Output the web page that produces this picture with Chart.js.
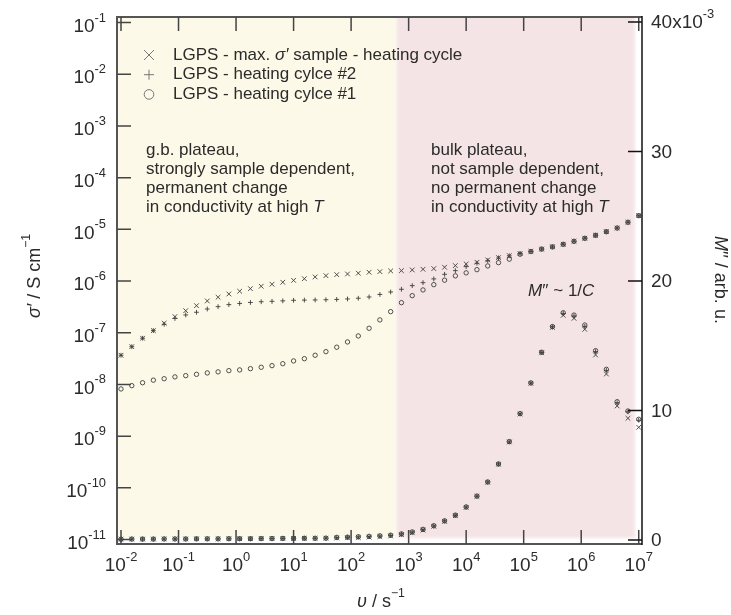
<!DOCTYPE html>
<html>
<head>
<meta charset="utf-8">
<script src="https://cdn.jsdelivr.net/npm/chart.js@4.4.1/dist/chart.umd.min.js"></script>
<style>
    html, body { margin: 0; padding: 0; background: #fff; }
    #wrap { width: 731px; height: 615px; }
</style>
</head>
<body>
<div id="wrap"><canvas id="chart" width="731" height="615"></canvas></div>
<script>
// Frequency points (Hz), 16 steps per 3 decades from 10^-2 to 10^7
const freq = [
    0.01, 0.01540, 0.02371, 0.03652, 0.05623, 0.08660, 0.1334, 0.2054, 0.3162, 0.4870,
    0.7499, 1.155, 1.778, 2.738, 4.217, 6.494, 10, 15.40, 23.71, 36.52,
    56.23, 86.60, 133.4, 205.4, 316.2, 487.0, 749.9, 1155, 1778, 2738,
    4217, 6494, 10000, 15400, 23710, 36520, 56230, 86600, 133400, 205400,
    316200, 487000, 749900, 1155000, 1778000, 2738000, 4217000, 6494000, 10000000
];

// Real part of conductivity, S/cm
const sigmaMax = [
    3.67e-8, 5.38e-8, 7.83e-8, 1.10e-7, 1.53e-7, 2.05e-7, 2.67e-7, 3.34e-7, 4.12e-7, 4.86e-7,
    5.62e-7, 6.35e-7, 7.13e-7, 7.93e-7, 8.67e-7, 9.48e-7, 1.03e-6, 1.11e-6, 1.20e-6, 1.27e-6,
    1.33e-6, 1.37e-6, 1.42e-6, 1.48e-6, 1.52e-6, 1.57e-6, 1.59e-6, 1.64e-6, 1.69e-6, 1.74e-6,
    1.85e-6, 1.99e-6, 2.14e-6, 2.31e-6, 2.56e-6, 2.84e-6, 3.10e-6, 3.40e-6, 3.75e-6, 4.15e-6,
    4.60e-6, 5.15e-6, 5.89e-6, 6.73e-6, 7.69e-6, 9.04e-6, 1.06e-5, 1.37e-5, 1.84e-5
];
const sigmaCycle2 = [
    3.67e-8, 5.38e-8, 7.83e-8, 1.10e-7, 1.46e-7, 1.89e-7, 2.21e-7, 2.49e-7, 2.88e-7, 3.20e-7,
    3.50e-7, 3.69e-7, 3.85e-7, 3.98e-7, 4.05e-7, 4.14e-7, 4.24e-7, 4.28e-7, 4.31e-7, 4.35e-7,
    4.41e-7, 4.51e-7, 4.65e-7, 4.92e-7, 5.51e-7, 6.15e-7, 6.93e-7, 8.15e-7, 9.31e-7, 1.10e-6,
    1.35e-6, 1.59e-6, 1.90e-6, 2.21e-6, 2.48e-6, 2.80e-6, 3.08e-6, 3.40e-6, 3.73e-6, 4.15e-6,
    4.58e-6, 5.13e-6, 5.87e-6, 6.70e-6, 7.66e-6, 9.00e-6, 1.06e-5, 1.37e-5, 1.84e-5
];
const sigmaCycle1 = [
    8.18e-9, 9.48e-9, 1.08e-8, 1.21e-8, 1.29e-8, 1.40e-8, 1.48e-8, 1.57e-8, 1.67e-8, 1.75e-8,
    1.85e-8, 1.91e-8, 2.02e-8, 2.15e-8, 2.31e-8, 2.52e-8, 2.85e-8, 3.15e-8, 3.67e-8, 4.31e-8,
    5.25e-8, 6.64e-8, 8.67e-8, 1.22e-7, 1.77e-7, 2.56e-7, 3.82e-7, 5.22e-7, 6.73e-7, 8.51e-7,
    1.04e-6, 1.26e-6, 1.44e-6, 1.66e-6, 1.96e-6, 2.27e-6, 2.65e-6, 3.30e-6, 3.72e-6, 4.15e-6,
    4.58e-6, 5.13e-6, 5.87e-6, 6.70e-6, 7.66e-6, 9.00e-6, 1.06e-5, 1.37e-5, 1.84e-5
];

// Imaginary part of the electric modulus, in units of 10^-3
const mppMax = [
    0.06, 0.07, 0.07, 0.07, 0.08, 0.08, 0.08, 0.09, 0.09, 0.09,
    0.10, 0.10, 0.10, 0.11, 0.11, 0.12, 0.12, 0.13, 0.13, 0.14,
    0.15, 0.17, 0.19, 0.22, 0.26, 0.31, 0.41, 0.56, 0.77, 1.06,
    1.44, 1.88, 2.52, 3.37, 4.46, 5.85, 7.57, 9.73, 12.10, 14.46,
    16.42, 17.35, 17.12, 16.27, 14.29, 12.82, 10.35, 9.40, 8.70
];
const mppCycle2 = [
    0.06, 0.07, 0.07, 0.07, 0.08, 0.08, 0.08, 0.09, 0.09, 0.09,
    0.10, 0.10, 0.10, 0.11, 0.11, 0.12, 0.12, 0.13, 0.13, 0.14,
    0.18, 0.20, 0.23, 0.26, 0.30, 0.35, 0.45, 0.60, 0.80, 1.08,
    1.46, 1.90, 2.54, 3.38, 4.47, 5.86, 7.58, 9.75, 12.12, 14.48,
    16.45, 17.50, 17.30, 16.50, 14.55, 13.10, 10.60, 9.90, 9.25
];
const mppCycle1 = [
    0.06, 0.07, 0.07, 0.07, 0.08, 0.08, 0.08, 0.09, 0.09, 0.09,
    0.10, 0.10, 0.10, 0.11, 0.11, 0.12, 0.12, 0.13, 0.13, 0.14,
    0.20, 0.22, 0.25, 0.28, 0.32, 0.37, 0.47, 0.62, 0.82, 1.10,
    1.48, 1.92, 2.55, 3.39, 4.48, 5.87, 7.60, 9.76, 12.13, 14.50,
    16.48, 17.55, 17.37, 16.60, 14.62, 13.18, 10.68, 9.96, 9.32
];

// Axis ticks
const xDecades = [-2, -1, 0, 1, 2, 3, 4, 5, 6, 7];
const yDecades = [-11, -10, -9, -8, -7, -6, -5, -4, -3, -2, -1];
const rightTicks = [0, 10, 20, 30, 40];

// Shaded frequency ranges (Hz): grain boundary and bulk regimes
const gbEdge = 620;
const bulkEdge = 8.6e6;

const FONT = '"Liberation Sans", Arial, Helvetica, sans-serif';
const INK = '#2b2b2b';

function pts(ys) {
    return freq.map((f, i) => ({ x: f, y: ys[i] }));
}

// Draws a run of text pieces; piece = [text, flags] with flags 'i' (italic) / 's' (superscript)
function richWidth(ctx, parts, size) {
    let w = 0;
    parts.forEach(p => {
        const fl = p[1] || '';
        const s = fl.includes('s') ? size * 0.68 : size;
        ctx.font = (fl.includes('i') ? 'italic ' : '') + s + 'px ' + FONT;
        w += ctx.measureText(p[0]).width;
    });
    return w;
}

function drawRich(ctx, parts, x, y, size, align) {
    const w = richWidth(ctx, parts, size);
    let cx = x;
    if (align === 'center') cx = x - w / 2;
    if (align === 'right') cx = x - w;
    ctx.textBaseline = 'middle';
    ctx.textAlign = 'left';
    parts.forEach(p => {
        const fl = p[1] || '';
        const sup = fl.includes('s');
        const s = sup ? size * 0.68 : size;
        ctx.font = (fl.includes('i') ? 'italic ' : '') + s + 'px ' + FONT;
        ctx.fillText(p[0], cx, sup ? y - size * 0.45 : y);
        cx += ctx.measureText(p[0]).width;
    });
}

const shading = {
    id: 'shading',
    beforeDatasetsDraw(chart) {
        const ctx = chart.ctx;
        const a = chart.chartArea;
        const xs = chart.scales.x;
        const xSplit = xs.getPixelForValue(gbEdge);
        const xEnd = xs.getPixelForValue(bulkEdge);
        ctx.save();
        ctx.beginPath();
        ctx.rect(a.left, a.top, a.right - a.left, a.bottom - a.top);
        ctx.clip();
        ctx.filter = 'blur(1.5px)';
        ctx.fillStyle = '#fdf9e8';
        ctx.fillRect(a.left - 6, a.top - 6, xSplit - a.left + 6, a.bottom - a.top);
        ctx.fillStyle = '#f5e4e5';
        ctx.fillRect(xSplit, a.top - 6, xEnd - xSplit, a.bottom - a.top);
        ctx.restore();
    }
};

const frame = {
    id: 'frame',
    afterDatasetsDraw(chart) {
        const ctx = chart.ctx;
        const a = chart.chartArea;
        const xs = chart.scales.x, ys = chart.scales.y, y2 = chart.scales.y2;
        const tl = 14;
        ctx.save();

        // box
        ctx.strokeStyle = '#555';
        ctx.lineWidth = 2;
        ctx.beginPath();
        ctx.moveTo(a.right, a.top); ctx.lineTo(a.left, a.top);
        ctx.lineTo(a.left, a.bottom); ctx.lineTo(a.right, a.bottom);
        ctx.stroke();
        ctx.strokeStyle = '#111';
        ctx.lineWidth = 1.5;
        ctx.beginPath();
        ctx.moveTo(a.right, a.top - 1); ctx.lineTo(a.right, a.bottom + 1);
        ctx.stroke();

        // inward ticks
        ctx.strokeStyle = '#444';
        ctx.lineWidth = 1.5;
        ctx.beginPath();
        xDecades.forEach(d => {
            const px = xs.getPixelForValue(Math.pow(10, d));
            ctx.moveTo(px, a.bottom); ctx.lineTo(px, a.bottom - tl);
            ctx.moveTo(px, a.top); ctx.lineTo(px, a.top + tl);
        });
        yDecades.forEach(d => {
            const py = ys.getPixelForValue(Math.pow(10, d));
            ctx.moveTo(a.left, py); ctx.lineTo(a.left + tl, py);
        });
        ctx.stroke();
        ctx.strokeStyle = '#111';
        ctx.beginPath();
        rightTicks.forEach(v => {
            const py = y2.getPixelForValue(v);
            ctx.moveTo(a.right, py); ctx.lineTo(a.right - tl, py);
        });
        ctx.stroke();

        // tick labels
        ctx.fillStyle = INK;
        xDecades.forEach(d => {
            const px = xs.getPixelForValue(Math.pow(10, d));
            drawRich(ctx, [['10'], [String(d), 's']], px, a.bottom + 22, 19, 'center');
        });
        yDecades.forEach(d => {
            const py = ys.getPixelForValue(Math.pow(10, d));
            drawRich(ctx, [['10'], [String(d), 's']], a.left - 11, py + 4, 19, 'right');
        });
        rightTicks.forEach(v => {
            const py = y2.getPixelForValue(v);
            const parts = v === 40 ? [['40x10'], ['-3', 's']] : [[String(v)]];
            drawRich(ctx, parts, a.right + 9, py + 1, 19, 'left');
        });

        // axis titles
        ctx.save();
        ctx.translate(35, 276);
        ctx.rotate(-Math.PI / 2);
        drawRich(ctx, [['\u03c3\u2032', 'i'], [' / S cm'], ['\u22121', 's']], 0, 0, 18, 'center');
        ctx.restore();
        ctx.save();
        ctx.translate(720, 280);
        ctx.rotate(Math.PI / 2);
        drawRich(ctx, [['M', 'i'], ['\u2032\u2032 / arb. u.']], 0, 0, 18, 'center');
        ctx.restore();
        drawRich(ctx, [['\u03c5', 'i'], [' / s'], ['\u22121', 's']], 381, 602, 18, 'center');

        // regime notes
        const lh = 19;
        const gb = [[['g.b. plateau,']], [['strongly sample dependent,']], [['permanent change']],
                    [['in conductivity at high '], ['T', 'i']]];
        const bulk = [[['bulk plateau,']], [['not sample dependent,']], [['no permanent change']],
                      [['in conductivity at high '], ['T', 'i']]];
        gb.forEach((l, i) => drawRich(ctx, l, 146, 150 + i * lh, 17, 'left'));
        bulk.forEach((l, i) => drawRich(ctx, l, 431, 150 + i * lh, 17, 'left'));
        drawRich(ctx, [['M', 'i'], ['\u2032\u2032 ~ 1/'], ['C', 'i']], 528, 291, 17, 'left');

        // legend
        const rows = [
            { sym: 'x', parts: [['LGPS - max. '], ['\u03c3\u2032', 'i'], [' sample - heating cycle']] },
            { sym: '+', parts: [['LGPS - heating cylce #2']] },
            { sym: 'o', parts: [['LGPS - heating cylce #1']] }
        ];
        rows.forEach((r, i) => {
            const cy = 55 + i * 19.7;
            const cx = 149;
            ctx.strokeStyle = '#777';
            ctx.lineWidth = 1;
            ctx.beginPath();
            if (r.sym === 'x') {
                ctx.moveTo(cx - 5, cy - 5); ctx.lineTo(cx + 5, cy + 5);
                ctx.moveTo(cx + 5, cy - 5); ctx.lineTo(cx - 5, cy + 5);
            } else if (r.sym === '+') {
                ctx.moveTo(cx - 5, cy); ctx.lineTo(cx + 5, cy);
                ctx.moveTo(cx, cy - 5); ctx.lineTo(cx, cy + 5);
            } else {
                ctx.arc(cx, cy, 4.8, 0, Math.PI * 2);
            }
            ctx.stroke();
            ctx.fillStyle = INK;
            drawRich(ctx, r.parts, 173, cy, 17, 'left');
        });

        ctx.restore();
    }
};

const markColor = '#3d3d3d';
const crossSet = (data, axis) => ({
    data: pts(data), yAxisID: axis, pointStyle: 'crossRot', pointRadius: 3.3,
    borderColor: markColor, borderWidth: 0.9, backgroundColor: markColor
});
const plusSet = (data, axis) => ({
    data: pts(data), yAxisID: axis, pointStyle: 'cross', pointRadius: 2.4,
    borderColor: markColor, borderWidth: 0.9, backgroundColor: markColor
});
const ringSet = (data, axis) => ({
    data: pts(data), yAxisID: axis, pointStyle: 'circle', pointRadius: 2.2,
    borderColor: markColor, borderWidth: 0.9, backgroundColor: 'rgba(0,0,0,0)'
});

new Chart(document.getElementById('chart'), {
    type: 'scatter',
    data: {
        datasets: [
            crossSet(sigmaMax, 'y'),
            plusSet(sigmaCycle2, 'y'),
            ringSet(sigmaCycle1, 'y'),
            crossSet(mppMax, 'y2'),
            plusSet(mppCycle2, 'y2'),
            ringSet(mppCycle1, 'y2')
        ]
    },
    options: {
        responsive: false,
        animation: false,
        devicePixelRatio: 1,
        layout: { padding: { left: 117, right: 89, top: 17, bottom: 71 } },
        plugins: { legend: { display: false }, tooltip: { enabled: false } },
        scales: {
            x: { type: 'logarithmic', display: false, min: 0.00852, max: 1.14e7 },
            y: { type: 'logarithmic', position: 'left', display: false, min: 8.2e-12, max: 0.128 },
            y2: { type: 'linear', position: 'right', display: false, min: -0.31, max: 40.39 }
        }
    },
    plugins: [shading, frame]
});
</script>
</body>
</html>
